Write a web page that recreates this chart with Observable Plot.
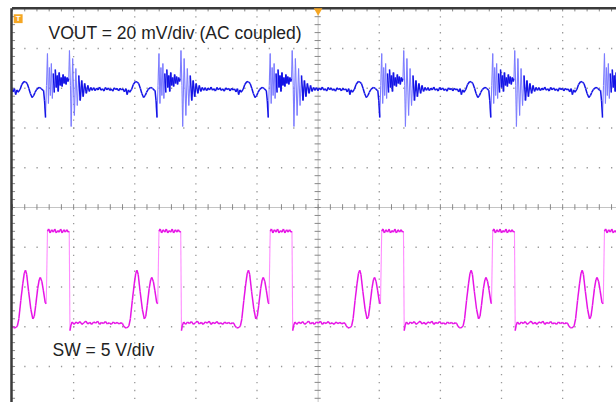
<!DOCTYPE html>
<html><head><meta charset="utf-8">
<script src="https://cdn.jsdelivr.net/npm/d3@7"></script>
<script src="https://cdn.jsdelivr.net/npm/@observablehq/plot@0.6"></script>
<style>body{margin:0;background:#fff}#chart{width:616px;height:402px;overflow:hidden}</style>
</head><body><div id="chart"></div>
<script>
// ---- scope settings ----
const nsPerDiv = 250;
const swVoltsPerDiv = 5;
const voutMvPerDiv = 20;
const swOffsetDiv = -3;
const voutOffsetDiv = 3;
const xDivs = 9.881;      // visible horizontal divisions (frame cropped at right)
const yDivTop = 5;
const yDivBottom = -4.906; // frame cropped at bottom
const triggerTimeDiv = 5;
const triggerLevelDiv = 4.75;

// rising edges of SW (ns from left of screen)
const cycleStarts = [-318, 138, 594, 1049, 1505, 1959, 2416];

// one switching cycle of SW (ns after rising edge, volts)
const swT = [0,5,10,16,22,29,35,41,47,53,59,65,72,78,84,90,94,97,101,106,114,122,130,138,146,154,162,170,178,186,194,202,210,218,226,234,242,250,258,266,274,282,290,298,306,312,316,322,328,334,338,344,352,360,366,371,376,384,393,401,407,413,421,427,432,438,444,452];
const swV = [2.9,12.0,12.3,11.8,12.2,11.9,12.3,11.8,12.1,11.9,12.3,11.8,12.2,11.9,12.2,11.9,12.0,-0.5,0.2,0.6,0.3,0.6,0.4,0.65,0.3,0.5,0.7,0.35,0.55,0.3,0.6,0.45,0.7,0.3,0.55,0.4,0.65,0.35,0.5,0.3,0.6,0.4,0.55,0.35,0.5,0.4,0.1,-0.1,-0.15,-0.05,0.1,1.0,3.3,5.4,6.7,7.1,6.6,4.4,2.2,1.0,1.3,2.7,4.8,5.9,6.2,5.7,4.6,3.0];

// one cycle of VOUT ripple (ns after SW rising edge, mV, AC coupled)
const voutT = [-11,-7,-3,1,5,9,13,17,21,25,29,33,37,41,45,49,53,57,61,65,69,73,77,81,85,89,92,
  95,99,102,108,115,121,127,133,139,145,151,157,164,170,176,182,188,
  194,200,206,212,218,224,230,236,242,248,254,260,266,272,278,284,290,296,302,308,314,
  320,326,331,336,341,349,356,365,372,378,385,391,398,405,410,417,427,435,443];
const voutMv = [-1.1,-6.2,-14.7,1.4,17.5,-7.7,10.4,-3.6,12.4,-5.2,7.4,-2.1,9.4,0.4,6.4,-1.6,7.9,1.4,5.4,0.9,6.9,2.4,5.9,1.9,5.4,3.4,4.9,
  19.0,1.4,-19.2,15.0,-13.7,9.9,-8.7,6.4,-6.2,3.9,-4.2,2.4,-2.6,1.4,-1.6,0.4,-1.1,
  0.3,-1.2,0.1,-0.9,0.6,-1.0,-0.2,-1.4,0.4,-0.8,0.2,-1.1,-0.3,-1.5,0.2,-0.7,-0.1,-1.3,0.0,-0.9,-0.3,
  -1.8,-0.2,-3.2,-0.8,-2.0,-0.6,1.9,3.4,3.1,2.4,-0.1,-2.6,-4.7,-3.6,-2.1,-0.6,0.4,-0.1,-1.1];

const labels = [
  {text: "VOUT = 20 mV/div (AC coupled)", tDiv: 0.59, yDiv: 4.37},
  {text: "SW = 5 V/div", tDiv: 0.655, yDiv: -3.585}
];

// ---- build traces ----
function build(T, V, perDiv, offset) {
  const pts = [];
  for (const s of cycleStarts) for (let i = 0; i < T.length; i++)
    pts.push({t: (s + T[i]) / nsPerDiv, y: V[i] / perDiv + offset});
  pts.sort((a, b) => a.t - b.t);
  const segs = [];
  for (let i = 1; i < pts.length; i++) {
    const a = pts[i-1], b = pts[i];
    if (b.t < 0 || a.t > xDivs) continue;
    const dxp = (b.t - a.t) * 61.125, dyp = Math.abs(b.y - a.y) * 39.75;
    segs.push({x1: a.t, y1: a.y, x2: b.t, y2: b.y, steep: dyp > 20 * Math.max(dxp, 0.01)});
  }
  return segs;
}
const swSegs = build(swT, swV, swVoltsPerDiv, swOffsetDiv);
const voSegs = build(voutT, voutMv, voutMvPerDiv, voutOffsetDiv);

const gridX = d3.range(1, 10).filter(k => k !== 5);
const gridY = d3.range(-4, 5).filter(k => k !== 0);
const minorX = d3.range(0, xDivs, 0.2);
const minorY = d3.range(-4.8, 5.01, 0.2);

const orange = "#f5a623";
const plot = Plot.plot({
  width: 616, height: 402,
  marginLeft: 12, marginRight: 0, marginTop: 8.25, marginBottom: 0,
  x: {domain: [0, xDivs], axis: null},
  y: {domain: [yDivBottom, yDivTop], axis: null},
  style: {background: "#fff", fontFamily: "Liberation Sans, Arial, sans-serif"},
  marks: [
    Plot.ruleX(gridX, {stroke: "#999", strokeWidth: 1.3, strokeDasharray: "1.3 6.65"}),
    Plot.ruleY(gridY, {stroke: "#999", strokeWidth: 1.3, strokeDasharray: "1.3 10.925"}),
    Plot.ruleX([5], {stroke: "#c4c4c4", strokeWidth: 1}),
    Plot.ruleY([0], {stroke: "#c4c4c4", strokeWidth: 1}),
    Plot.ruleY(minorY, {x1: 5 - 0.05, x2: 5 + 0.05, stroke: "#888", strokeWidth: 1}),
    Plot.ruleX(minorX, {y1: -0.07, y2: 0.07, stroke: "#888", strokeWidth: 1}),
    Plot.ruleY(minorY, {x1: 0, x2: 0.05, stroke: "#888", strokeWidth: 1}),
    Plot.ruleX(minorX, {y1: yDivTop, y2: yDivTop - 0.08, stroke: "#888", strokeWidth: 1}),
    Plot.link(voSegs.filter(d => d.steep), {x1: "x1", y1: "y1", x2: "x2", y2: "y2", stroke: "#7d7dff", strokeWidth: 1.1, clip: true}),
    Plot.link(voSegs.filter(d => !d.steep), {x1: "x1", y1: "y1", x2: "x2", y2: "y2", stroke: "#1414e6", strokeWidth: 1.5, clip: true}),
    Plot.link(swSegs.filter(d => d.steep), {x1: "x1", y1: "y1", x2: "x2", y2: "y2", stroke: "#ff8cff", strokeWidth: 1.1, clip: true}),
    Plot.link(swSegs.filter(d => !d.steep), {x1: "x1", y1: "y1", x2: "x2", y2: "y2", stroke: "#e614e6", strokeWidth: 1.5, clip: true}),
    Plot.ruleX([0], {stroke: "#3a3a3a", strokeWidth: 2.5, dx: -1}),
    Plot.ruleY([yDivTop], {stroke: "#3a3a3a", strokeWidth: 2.5, dy: -0.5}),
    Plot.text(labels, {x: "tDiv", y: "yDiv", text: "text", textAnchor: "start", fontSize: 17.5, fill: "#222"}),
    Plot.dot([{t: triggerTimeDiv, y: yDivTop}], {x: "t", y: "y", symbol: "triangle", rotate: 180, r: 3.2, fill: orange, stroke: null, dy: 2}),
    Plot.dot([{t: 0.093, y: triggerLevelDiv}], {x: "t", y: "y", symbol: "square", r: 5, fill: orange, stroke: null}),
    Plot.text([{t: 0.093, y: triggerLevelDiv}], {x: "t", y: "y", text: () => "T", fill: "#fff", fontSize: 8, fontWeight: "bold"})
  ]
});
document.getElementById("chart").appendChild(plot);
</script></body></html>
